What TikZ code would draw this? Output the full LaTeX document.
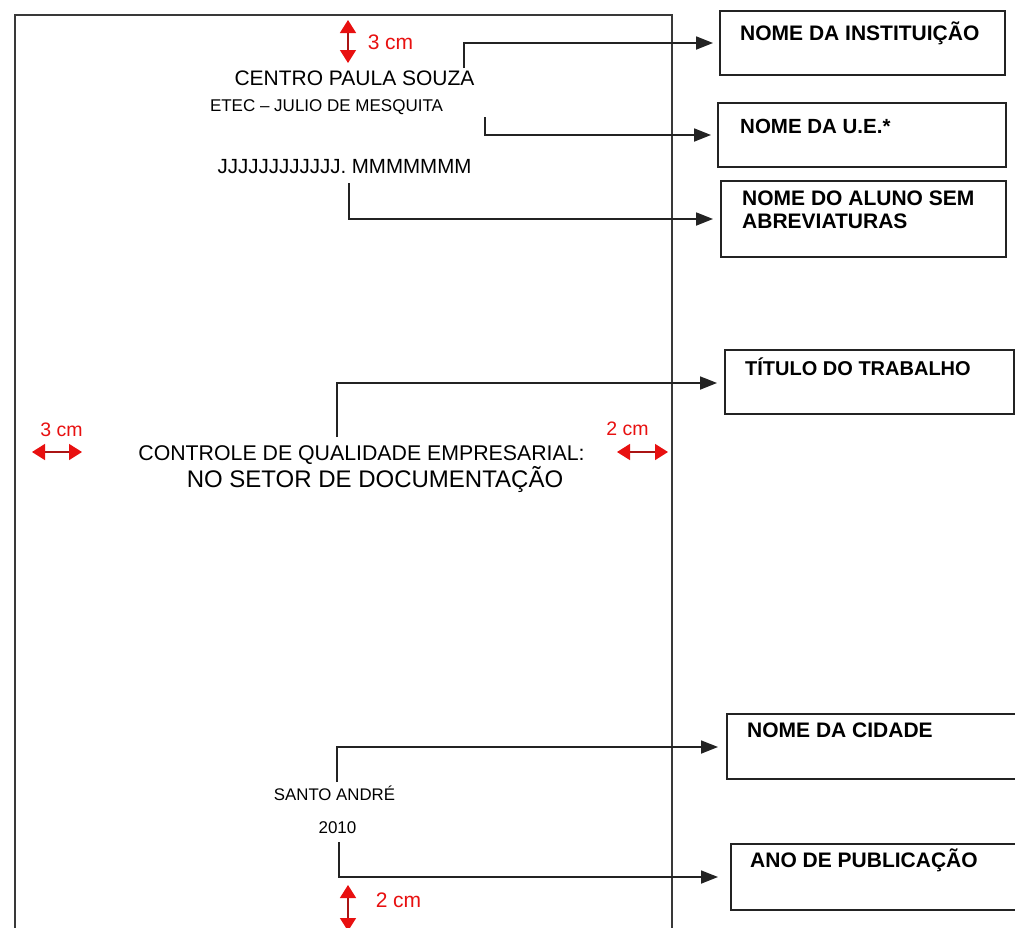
\documentclass[tikz,border=0pt]{standalone}
\usepackage{fontspec}
\setmainfont{Liberation Sans}
\usetikzlibrary{arrows.meta}
\definecolor{ink}{RGB}{35,35,35}
\definecolor{mred}{RGB}{232,16,16}
\definecolor{dred}{RGB}{170,20,20}
\newcommand\fsz[1]{\fontsize{#1}{#1}\selectfont}
\begin{document}
\begin{tikzpicture}[x=1pt,y=-1pt,
  frameline/.style={draw=ink!90, line width=1.6pt},
  txt/.style={inner sep=0pt, anchor=base, text=black},
  rtxt/.style={inner sep=0pt, anchor=base, text=mred, font=\fsz{19.5}},
  lbl/.style={inner sep=0pt, anchor=base west, text=black, font=\bfseries\fsz{21}},
  box/.style={draw=ink, line width=1.6pt, anchor=north west, inner sep=0pt},
  conn/.style={draw=ink, line width=1.8pt, line join=miter, -{Triangle[length=17pt,width=13pt]}},
  rarrow/.style={draw=dred, line width=1.5pt, {Triangle[length=13pt,width=16pt,color=mred]}-{Triangle[length=13pt,width=16pt,color=mred]}}
]
\clip (0,0) rectangle (1015,927);
\fill[white] (0,0) rectangle (1015,927);

% page frame
\draw[frameline] (15,935) -- (15,15) -- (672,15) -- (672,935);

% page texts
\node[txt, font=\fsz{21}] (t1) at (354.5,85) {CENTRO PAULA SOUZA};
\node[txt, font=\fsz{17}] (t2) at (326.5,111) {ETEC – JULIO DE MESQUITA};
\node[txt, font=\fsz{20.5}] (t3) at (344.5,173) {JJJJJJJJJJJJ. MMMMMMM};
\node[txt, font=\fsz{21.3}] (t4) at (361.5,460) {CONTROLE DE QUALIDADE EMPRESARIAL:};
\node[txt, font=\fsz{24}] (t5) at (375,487) {NO SETOR DE DOCUMENTAÇÃO};
\node[txt, font=\fsz{16.8}] (t6) at (334.5,800) {SANTO ANDRÉ};
\node[txt, font=\fsz{17}] (t7) at (337.5,833) {2010};

% red margin markers
\coordinate (ra1) at (348,20); \coordinate (ra2) at (348,63);
\coordinate (rb1) at (32,452); \coordinate (rb2) at (82,452);
\coordinate (rc1) at (617,452); \coordinate (rc2) at (668,452);
\coordinate (rd1) at (348,885); \coordinate (rd2) at (348,931);
\draw[rarrow] (ra1) -- (ra2);
\draw[rarrow] (rb1) -- (rb2);
\draw[rarrow] (rc1) -- (rc2);
\draw[rarrow] (rd1) -- (rd2);
\node[rtxt, font=\fsz{21}] (m1) at (390.5,49) {3 cm};
\node[rtxt] (m2) at (61.5,436) {3 cm};
\node[rtxt] (m3) at (627.5,435) {2 cm};
\node[rtxt, font=\fsz{21}] (m4) at (398.5,907) {2 cm};

% right boxes
\node[box, minimum width=285pt, minimum height=64pt] (b1) at (719,10) {};
\node[box, minimum width=288pt, minimum height=64pt] (b2) at (717,102) {};
\node[box, minimum width=285pt, minimum height=76pt] (b3) at (720,180) {};
\node[box, minimum width=289pt, minimum height=64pt] (b4) at (724,349) {};
\node[box, minimum width=292pt, minimum height=65pt] (b5) at (726,713) {};
\node[box, minimum width=292pt, minimum height=66pt] (b6) at (730,843) {};

\node[lbl] (l1) at (740,40) {NOME DA INSTITUIÇÃO};
\node[lbl, font=\bfseries\fsz{20.5}] (l2) at (740,133) {NOME DA U.E.*};
\node[lbl, align=left, font=\bfseries\fontsize{21}{23}\selectfont, anchor=north west] (l3) at (742,191) {NOME DO ALUNO SEM\\ABREVIATURAS};
\node[lbl, font=\bfseries\fsz{20}] (l4) at (745,375) {TÍTULO DO TRABALHO};
\node[lbl] (l5) at (747,737) {NOME DA CIDADE};
\node[lbl] (l6) at (750,867) {ANO DE PUBLICAÇÃO};

% connectors
\coordinate (s1) at (464,68);  \coordinate (k1) at (464,43);
\coordinate (s2) at (485,117); \coordinate (k2) at (485,135);
\coordinate (s3) at (349,183); \coordinate (k3) at (349,219);
\coordinate (s4) at (337,437); \coordinate (k4) at (337,383);
\coordinate (s5) at (337,782); \coordinate (k5) at (337,747);
\coordinate (s6) at (339,842); \coordinate (k6) at (339,877);
\draw[conn, shorten >=6pt] (s1) -- (k1) -- (k1 -| b1.west);
\draw[conn, shorten >=6pt] (s2) -- (k2) -- (k2 -| b2.west);
\draw[conn, shorten >=7pt] (s3) -- (k3) -- (k3 -| b3.west);
\draw[conn, shorten >=7pt] (s4) -- (k4) -- (k4 -| b4.west);
\draw[conn, shorten >=8pt] (s5) -- (k5) -- (k5 -| b5.west);
\draw[conn, shorten >=12pt] (s6) -- (k6) -- (k6 -| b6.west);
\end{tikzpicture}
\end{document}
